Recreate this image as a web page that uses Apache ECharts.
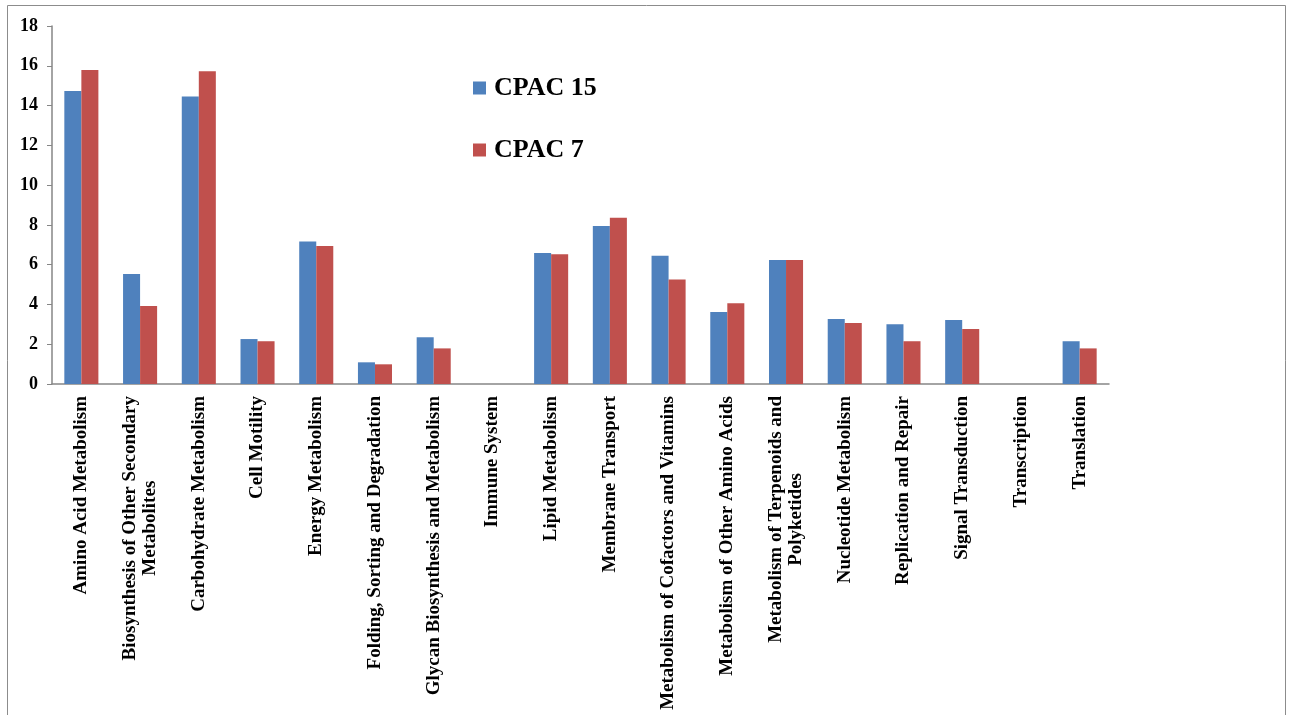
<!DOCTYPE html>
<html>
<head>
<meta charset="utf-8">
<script src="https://cdn.jsdelivr.net/npm/echarts@6/dist/echarts.min.js"></script>
<style>html,body{margin:0;padding:0;background:#fff}#c{width:1293px;height:715px}</style>
</head>
<body>
<div id="c"></div>
<script>
const categories = [
  "Amino Acid Metabolism",
  "Biosynthesis of Other Secondary\nMetabolites",
  "Carbohydrate Metabolism",
  "Cell Motility",
  "Energy Metabolism",
  "Folding, Sorting and Degradation",
  "Glycan Biosynthesis and Metabolism",
  "Immune System",
  "Lipid Metabolism",
  "Membrane Transport",
  "Metabolism of Cofactors and Vitamins",
  "Metabolism of Other Amino Acids",
  "Metabolism of Terpenoids and\nPolyketides",
  "Nucleotide Metabolism",
  "Replication and Repair",
  "Signal Transduction",
  "Transcription",
  "Translation"
];
const cpac15 = [14.73, 5.53, 14.45, 2.26, 7.17, 1.09, 2.35, 0, 6.59, 7.94, 6.45, 3.62, 6.23, 3.27, 3.00, 3.22, 0, 2.15];
const cpac7  = [15.79, 3.92, 15.72, 2.15, 6.94, 0.99, 1.79, 0, 6.52, 8.36, 5.26, 4.06, 6.23, 3.07, 2.15, 2.77, 0, 1.79];
const seriesNames = ["CPAC 15", "CPAC 7"];
const yTicks = [0, 2, 4, 6, 8, 10, 12, 14, 16, 18];

const FONT = "'Liberation Serif','Times New Roman',serif";
const chart = echarts.init(document.getElementById('c'));
chart.setOption({
  animation: false,
  backgroundColor: '#fff',
  graphic: [{
    type: 'rect', silent: true,
    shape: { x: 7.5, y: 5.5, width: 1278, height: 720 },
    style: { fill: 'none', stroke: '#8c8c8c', lineWidth: 1 }
  }],
  legend: {
    orient: 'vertical',
    left: 468, top: 70,
    itemWidth: 13, itemHeight: 13, itemGap: 36,
    icon: 'rect',
    textStyle: { fontFamily: FONT, fontWeight: 'bold', fontSize: 26, color: '#000', padding: [0, 0, 0, 3] },
    data: seriesNames
  },
  grid: { left: 52, right: 184, top: 26, bottom: 331, containLabel: false },
  xAxis: {
    type: 'category',
    data: categories,
    axisLine: { lineStyle: { color: '#868686', width: 1.5 } },
    axisTick: { length: 5, lineStyle: { color: '#868686' } },
    axisLabel: {
      interval: 0, rotate: 90, margin: 12,
      fontFamily: FONT, fontWeight: 'bold', fontSize: 19, color: '#000',
      formatter: function (v) { return v.split('\n').map(s => '{c|' + s + '}').join('\n'); },
      rich: { c: { align: 'center', fontFamily: FONT, fontWeight: 'bold', fontSize: 19, color: '#000', lineHeight: 20 } }
    }
  },
  yAxis: {
    type: 'value', min: 0, max: 18, interval: 2,
    axisLine: { show: true, lineStyle: { color: '#868686', width: 1.5 } },
    axisTick: { show: true, length: 5, lineStyle: { color: '#868686' } },
    splitLine: { show: false },
    axisLabel: {
      margin: 14, fontFamily: FONT, fontWeight: 'bold', fontSize: 18, color: '#000',
      formatter: function (v) { return yTicks.indexOf(v) >= 0 ? String(v) : ''; }
    }
  },
  series: [
    { name: seriesNames[0], type: 'bar', data: cpac15, barGap: '0%', barCategoryGap: '42%',
      itemStyle: { color: '#4F81BD' } },
    { name: seriesNames[1], type: 'bar', data: cpac7, barGap: '0%', barCategoryGap: '42%',
      itemStyle: { color: '#C0504D' } }
  ]
});
</script>
</body>
</html>
